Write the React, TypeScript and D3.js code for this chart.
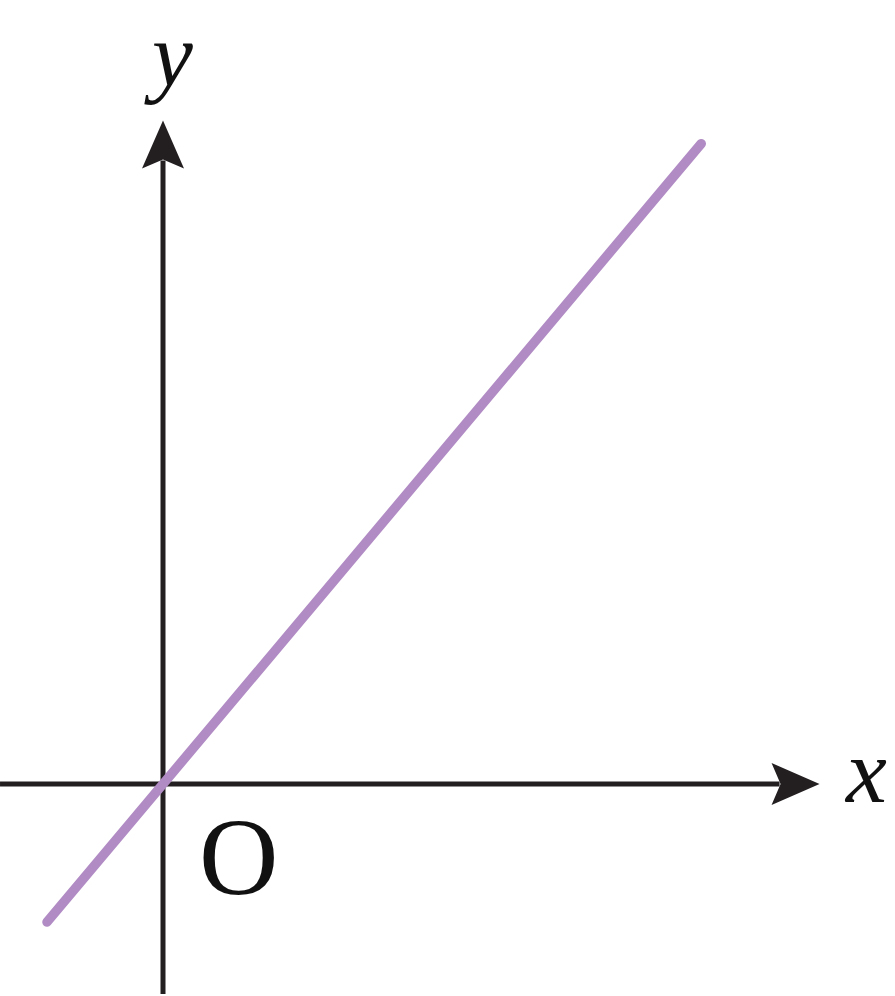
import React from "react";
import * as d3 from "d3";

const lineX = [-1, 4.64];
const lineY = [-1.19, 5.52];
const xAxisExtent = [-1.405, 5.66];
const yAxisExtent = [-1.81, 5.72];
const axisLabels = ["x", "y"];
const originLabel = "O";

const W = 895;
const H = 996;

export default function App() {
  const x = d3.scaleLinear().domain([0, 1]).range([163, 279]);
  const y = d3.scaleLinear().domain([0, 1]).range([784, 668]);
  const pts = lineX.map((v, i) => [x(v), y(lineY[i])] as [number, number]);
  const line = d3.line();
  const axisColor = "#231f20";

  const xTip = x(xAxisExtent[1]);
  const yTip = y(yAxisExtent[1]);
  const ox = x(0);
  const oy = y(0);

  const xArrow = `M${xTip},${oy} L${xTip - 48},${oy - 21} L${xTip - 39},${oy} L${xTip - 48},${oy + 21} Z`;
  const yArrow = `M${ox},${yTip} L${ox - 21},${yTip + 48} L${ox},${yTip + 39} L${ox + 21},${yTip + 48} Z`;

  return (
    <svg
      width={W}
      height={H}
      style={{ position: "absolute", left: 0, top: 0, background: "#fff" }}
    >
      <line
        x1={x(xAxisExtent[0])}
        x2={xTip - 40}
        y1={oy}
        y2={oy}
        stroke={axisColor}
        strokeWidth={5}
      />
      <line
        x1={ox}
        x2={ox}
        y1={y(yAxisExtent[0])}
        y2={yTip + 40}
        stroke={axisColor}
        strokeWidth={5}
      />
      <path d={xArrow} fill={axisColor} />
      <path d={yArrow} fill={axisColor} />
      <path
        d={line(pts) || ""}
        fill="none"
        stroke="#b08bc4"
        strokeWidth={9.5}
        strokeLinecap="round"
      />
      <text
        x={846}
        y={802}
        fontFamily="'Liberation Serif', serif"
        fontStyle="italic"
        fontSize={92}
        fill="#111"
      >
        {axisLabels[0]}
      </text>
      <text
        x={152}
        y={86}
        fontFamily="'Liberation Serif', serif"
        fontStyle="italic"
        fontSize={92}
        fill="#111"
      >
        {axisLabels[1]}
      </text>
      <text
        x={199}
        y={894}
        fontFamily="'Liberation Serif', serif"
        fontSize={110}
        fill="#111"
      >
        {originLabel}
      </text>
    </svg>
  );
}
